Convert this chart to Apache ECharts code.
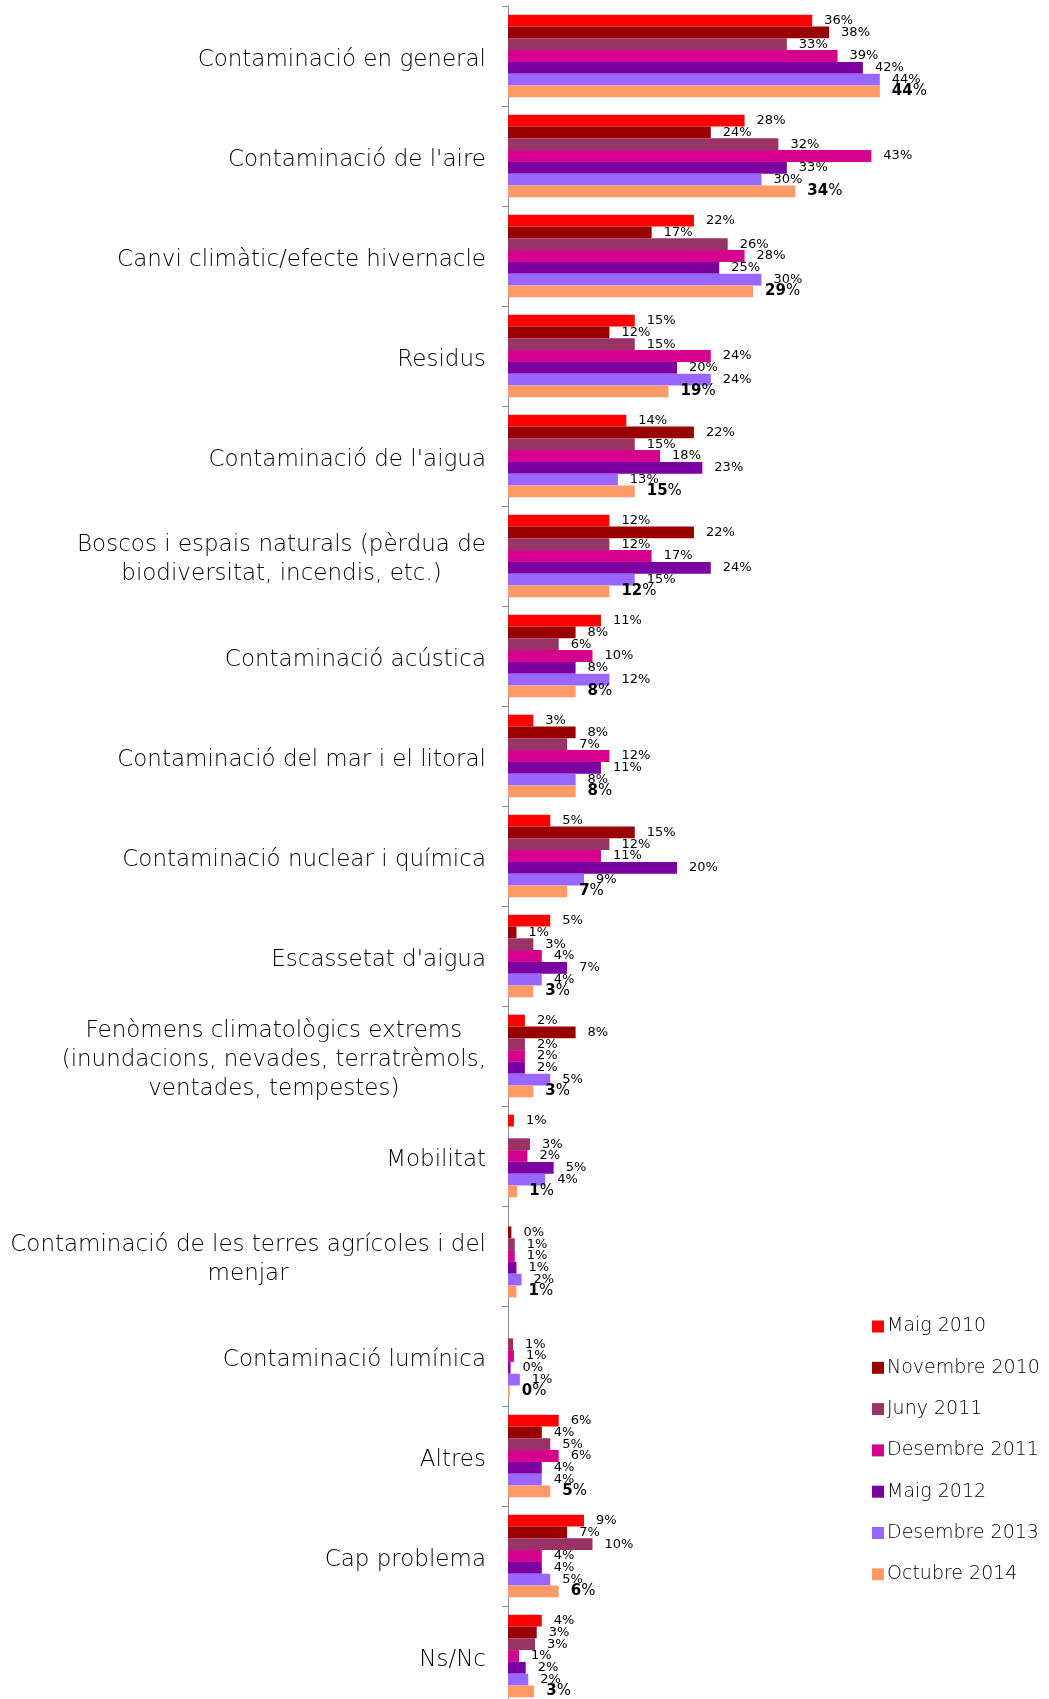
<!DOCTYPE html>
<html><head><meta charset="utf-8">
<script src="https://cdn.jsdelivr.net/npm/echarts@6/dist/echarts.min.js"></script>
<style>html,body{margin:0;padding:0;background:#fff}#c{width:1049px;height:1699px}</style>
</head><body><div id="c"></div>
<script>
const categories = [
  "Contaminació en general",
  "Contaminació de l'aire",
  "Canvi climàtic/efecte hivernacle",
  "Residus",
  "Contaminació de l'aigua",
  "Boscos i espais naturals (pèrdua de\nbiodiversitat, incendis, etc.)",
  "Contaminació acústica",
  "Contaminació del mar i el litoral",
  "Contaminació nuclear i química",
  "Escassetat d'aigua",
  "Fenòmens climatològics extrems\n(inundacions, nevades, terratrèmols,\nventades, tempestes)",
  "Mobilitat",
  "Contaminació de les terres agrícoles i del\nmenjar",
  "Contaminació lumínica",
  "Altres",
  "Cap problema",
  "Ns/Nc"
];
const seriesNames = ["Maig 2010","Novembre 2010","Juny 2011","Desembre 2011","Maig 2012","Desembre 2013","Octubre 2014"];
const maig2010     = [36,28,22,15,14,12,11,3,5,5,2,0.7,null,null,6,9,4];
const novembre2010 = [38,24,17,12,22,22,8,8,15,1,8,null,0.4,null,4,7,3.4];
const juny2011     = [33,32,26,15,15,12,6,7,12,3,2,2.6,0.8,0.6,5,10,3.2];
const desembre2011 = [39,43,28,24,18,17,10,12,11,4,2,2.3,0.8,0.7,6,4,1.3];
const maig2012     = [42,33,25,20,23,24,8,11,20,7,2,5.4,1,0.3,4,4,2.1];
const desembre2013 = [44,30,30,24,13,15,12,8,9,4,5,4.4,1.6,1.4,4,5,2.4];
const octubre2014  = [44,34,29,19,15,12,8,8,7,3,3,1.1,1,0.2,5,6,3.1];
const allSeries = [maig2010,novembre2010,juny2011,desembre2011,maig2012,desembre2013,octubre2014];
const colors = ["#FF0000","#990000","#993366","#D6008F","#7B00A1","#9966FF","#FF9966"];

const FONT = "DejaVu Sans";
const chart = echarts.init(document.getElementById('c'), null, {renderer:'canvas'});

const series = allSeries.map((d, i) => {
  const last = i === allSeries.length - 1;
  return {
    name: seriesNames[i],
    type: 'bar',
    data: d,
    barGap: '0%',
    barCategoryGap: '17.4%',
    itemStyle: {color: colors[i]},
    label: {
      show: true,
      position: 'right',
      distance: 12,
      color: '#000',
      fontFamily: FONT,
      fontSize: 13,
      formatter: last
        ? (p => '{b|' + Math.round(p.value) + '}{p|%}')
        : (p => Math.round(p.value) + '%'),
      rich: last ? {
        b: {fontWeight: 'bold', fontSize: 15, fontFamily: FONT, color: '#000'},
        p: {fontSize: 15, fontFamily: FONT, color: '#000'}
      } : undefined
    }
  };
});

chart.setOption({
  animation: false,
  backgroundColor: '#fff',
  color: colors,
  grid: {left: 508, top: 6, width: 50 * 8.45, height: 1700, containLabel: false, outerBoundsMode: 'none'},
  legend: {
    orient: 'vertical',
    left: 872,
    top: 1317,
    padding: 0,
    itemGap: 22.3,
    itemWidth: 12,
    itemHeight: 12,
    icon: 'rect',
    textStyle: {fontFamily: FONT, fontSize: 19, fontWeight: 200, color: '#000', padding: [0,0,0,-2]},
    data: seriesNames
  },
  xAxis: {
    type: 'value', min: 0, max: 50,
    show: false
  },
  yAxis: {
    type: 'category',
    inverse: true,
    data: categories,
    axisLine: {show: true, lineStyle: {color: '#8c8c8c', width: 1}},
    axisTick: {show: true, length: 6, lineStyle: {color: '#8c8c8c'}},
    axisLabel: {
      margin: 22,
      align: 'right',
      color: '#000',
      fontFamily: FONT,
      fontSize: 23,
      fontWeight: 200,
      lineHeight: 29,
      padding: [8, 0, 0, 0],
      formatter: v => v.split('\n').map(s => '{c|' + s + '}').join('\n'),
      rich: {c: {align: 'center', fontFamily: FONT, fontSize: 23, fontWeight: 200, lineHeight: 29, color: '#000'}}
    }
  },
  series: series
});
</script>
</body></html>
